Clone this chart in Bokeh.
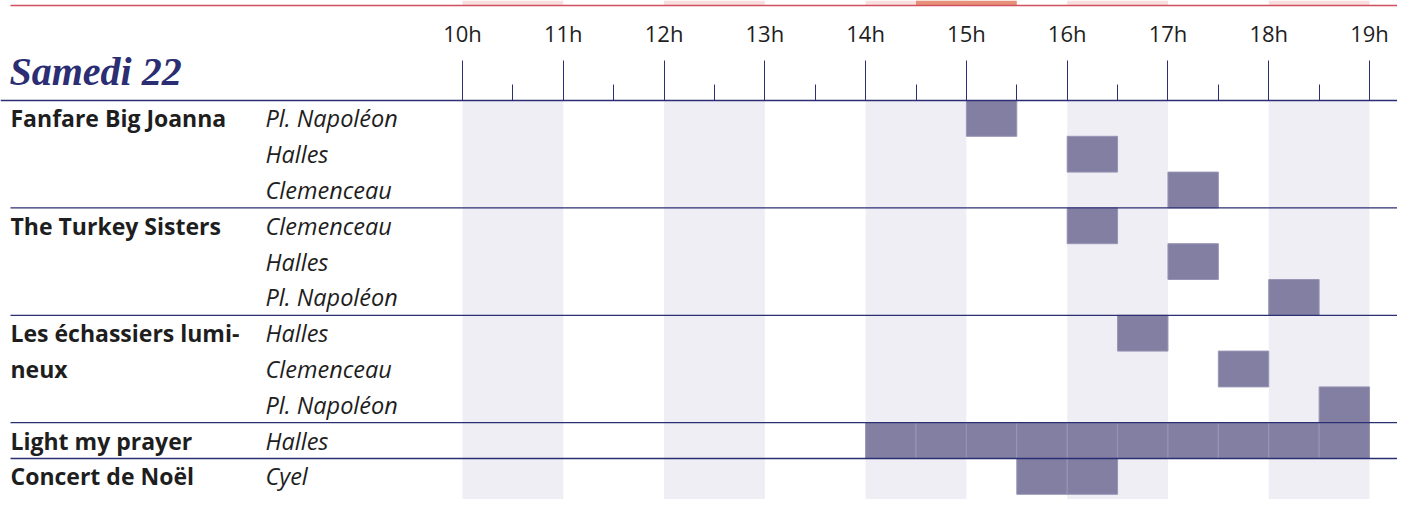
import numpy as np
from bokeh.plotting import figure
from bokeh.models import Range1d, FixedTicker, LinearAxis, Label, ColumnDataSource
from bokeh.core.properties import value
from bokeh.embed import file_html
from bokeh.resources import INLINE

# ---------------- data ----------------
day_title = "Samedi 22"
hour_ticks = [10, 11, 12, 13, 14, 15, 16, 17, 18, 19]
tick_labels = ["10h", "11h", "12h", "13h", "14h", "15h", "16h", "17h", "18h", "19h"]
half_hour_ticks = [10.5, 11.5, 12.5, 13.5, 14.5, 15.5, 16.5, 17.5, 18.5]
shaded_hours = [10, 12, 14, 16, 18]

artist_lines = ["Fanfare Big Joanna", "", "",
                "The Turkey Sisters", "", "",
                "Les échassiers lumi-", "neux", "",
                "Light my prayer",
                "Concert de Noël"]
venues = ["Pl. Napoléon", "Halles", "Clemenceau",
          "Clemenceau", "Halles", "Pl. Napoléon",
          "Halles", "Clemenceau", "Pl. Napoléon",
          "Halles",
          "Cyel"]
group_sizes = [3, 3, 3, 1, 1]
start_h = [15.0, 16.0, 17.0, 16.0, 17.0, 18.0, 16.5, 17.5, 18.5, 14.0, 15.5]
end_h = [15.5, 16.5, 17.5, 16.5, 17.5, 18.5, 17.0, 18.0, 19.0, 19.0, 16.5]

# previous section (cut off at the top of the picture)
prev_highlight = [14.5, 15.5]

# ---------------- layout ----------------
W, H = 1397, 499
HOUR_PX = 100.78
X10_PX = 462.0
HEAD_PX = 100.0      # header line (y of row 0 top)
ROW_PX = 35.8
x_start = 10 - X10_PX / HOUR_PX
x_end = x_start + W / HOUR_PX
y_top = -HEAD_PX / ROW_PX
y_bottom = (H - HEAD_PX) / ROW_PX


def py(px):
    return (px - HEAD_PX) / ROW_PX


NAVY = "#2b2e72"
BAR = "#837fa3"
BAND = "#efeef5"
TXT = "#1e1e1e"

p = figure(width=W, height=H, x_range=Range1d(x_start, x_end),
           y_range=Range1d(y_bottom, y_top), output_backend="svg",
           toolbar_location=None, min_border=0,
           x_axis_type=None, y_axis_type=None, outline_line_color=None,
           background_fill_color="white", border_fill_color="white")

# shaded hour columns
p.quad(left=shaded_hours, right=[h + 1 for h in shaded_hours], top=0, bottom=y_bottom + 1,
       fill_color=BAND, line_color=None)

# previous section remnants at the very top
p.quad(left=shaded_hours, right=[h + 1 for h in shaded_hours], top=y_top, bottom=py(5),
       fill_color="#f9dfe0", line_color=None)
p.quad(left=[prev_highlight[0]], right=[prev_highlight[1]], top=y_top, bottom=py(5),
       fill_color="#e8917a", line_color=None)
p.segment(x0=x_start + 10 / HOUR_PX, x1=x_end, y0=py(5), y1=py(5), line_color="#cf4f5c", line_width=1.5)

# bars, drawn as half-hour cells
cl, cr, ct, cb = [], [], [], []
for i, (s, e) in enumerate(zip(start_h, end_h)):
    for c in np.arange(s, e - 1e-9, 0.5):
        cl.append(c); cr.append(c + 0.5); ct.append(i); cb.append(i + 1)
p.quad(left=cl, right=cr, top=ct, bottom=cb, fill_color=BAR, line_color="#9894b4", line_width=1)

# group separators
bounds = [float(b) for b in np.cumsum(group_sizes)[:-1]]
p.segment(x0=x_start + 10 / HOUR_PX, x1=x_end, y0=bounds, y1=bounds, line_color=NAVY, line_width=1.3)

# time axis, fixed on the header line
ax = LinearAxis(ticker=FixedTicker(ticks=hour_ticks, minor_ticks=half_hour_ticks),
                major_label_overrides={h: l for h, l in zip(hour_ticks, tick_labels)},
                fixed_location=0)
ax.axis_line_color = NAVY
ax.axis_line_width = 1.3
ax.major_tick_line_color = NAVY
ax.minor_tick_line_color = NAVY
ax.major_tick_in = 0
ax.major_tick_out = 40
ax.minor_tick_in = 0
ax.minor_tick_out = 16
ax.major_label_standoff = 13
ax.major_label_text_font = "Open Sans"
ax.major_label_text_font_size = "22px"
ax.major_label_text_color = TXT
p.add_layout(ax, "above")

rows = np.arange(len(venues)) + 0.5
src = ColumnDataSource(dict(y=rows, artist=artist_lines, venue=venues))
p.text(x=x_start, y="y", text="artist", source=src, x_offset=10, text_baseline="middle",
       text_font=value("Open Sans"), text_font_style="bold", text_font_size="23px", text_color=TXT)
p.text(x=x_start, y="y", text="venue", source=src, x_offset=265, text_baseline="middle",
       text_font=value("Open Sans"), text_font_style="italic", text_font_size="23.5px", text_color=TXT)

p.add_layout(Label(x=x_start, y=py(71), x_offset=9, text=day_title,
                   text_font="Liberation Serif", text_font_style="bold italic",
                   text_font_size="40px", text_color=NAVY, text_baseline="middle"))

open("out.html", "w").write(file_html(p, INLINE))
